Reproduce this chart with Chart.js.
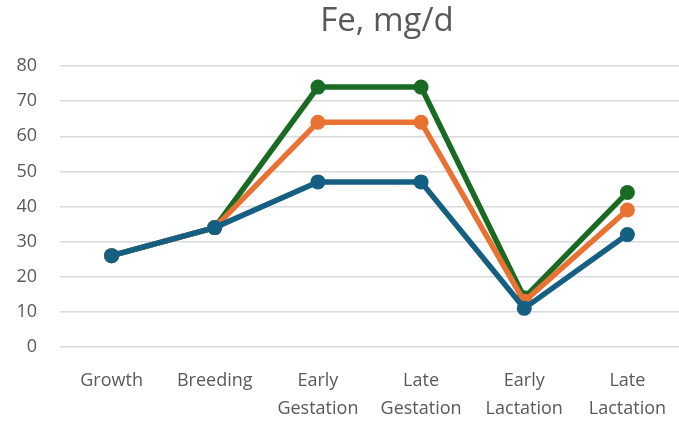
<!DOCTYPE html>
<html>
<head>
<meta charset="utf-8">
<script src="https://cdn.jsdelivr.net/npm/chart.js@4"></script>
<style>
  html, body { margin: 0; padding: 0; background: #fff; }
  #wrap { width: 679px; height: 421px; }
</style>
</head>
<body>
<div id="wrap"><canvas id="chart"></canvas></div>
<script>
// Stages and Fe values (mg/d)
const stages = [['Growth'], ['Breeding'], ['Early', 'Gestation'], ['Late', 'Gestation'], ['Early', 'Lactation'], ['Late', 'Lactation']];
const seriesBlue = [26, 34, 47, 47, 11, 32];
const seriesOrange = [26, 34, 64, 64, 13, 39];
const seriesGreen = [26, 34, 74, 74, 14, 44];
const yTicks = [0, 10, 20, 30, 40, 50, 60, 70, 80];
const titleText = 'Fe, mg/d';

const textColor = '#595959';
const fontFamily = '"Open Sans", Lato, sans-serif';

function makeSeries(values, color) {
  return {
    data: values,
    borderColor: color,
    backgroundColor: color,
    borderWidth: 5.5,
    pointRadius: 7.5,
    pointHoverRadius: 7.5,
    pointBorderWidth: 0,
    tension: 0
  };
}

// title sits right of centre in the original, so draw it ourselves
const offsetTitle = {
  id: 'offsetTitle',
  afterDraw(chart) {
    const ctx = chart.ctx;
    ctx.save();
    ctx.fillStyle = textColor;
    ctx.font = '33px ' + fontFamily;
    ctx.textAlign = 'center';
    ctx.textBaseline = 'middle';
    ctx.fillText(titleText, 387, 22);
    ctx.restore();
  }
};

new Chart(document.getElementById('chart'), {
  type: 'line',
  data: {
    labels: stages,
    datasets: [
      makeSeries(seriesBlue, '#156082'),
      makeSeries(seriesOrange, '#E97132'),
      makeSeries(seriesGreen, '#196B24')
    ]
  },
  plugins: [offsetTitle],
  options: {
    responsive: true,
    maintainAspectRatio: false,
    animation: false,
    // no auto padding, the plot runs to the right edge like the original
    layout: { autoPadding: false, padding: { top: 66, left: 0, right: 0, bottom: 0 } },
    plugins: {
      legend: { display: false },
      tooltip: { enabled: false },
      title: { display: false }
    },
    scales: {
      x: {
        offset: true,
        afterFit: axis => {
          axis.height = 74;
          axis.paddingRight = 0;
          axis.paddingLeft = 0;
        },
        grid: { display: false },
        border: { display: false },
        ticks: {
          color: textColor,
          font: { family: fontFamily, size: 18, lineHeight: 1.6 },
          padding: 11,
          maxRotation: 0,
          autoSkip: false
        }
      },
      y: {
        min: 0,
        max: 80,
        afterBuildTicks: axis => { axis.ticks = yTicks.map(v => ({ value: v })); },
        afterFit: axis => { axis.width = 60; },
        grid: { color: '#d9d9d9', lineWidth: 1.5, drawTicks: false },
        border: { display: false },
        ticks: {
          color: textColor,
          font: { family: fontFamily, size: 18 },
          padding: 23
        }
      }
    }
  }
});
</script>
</body>
</html>
